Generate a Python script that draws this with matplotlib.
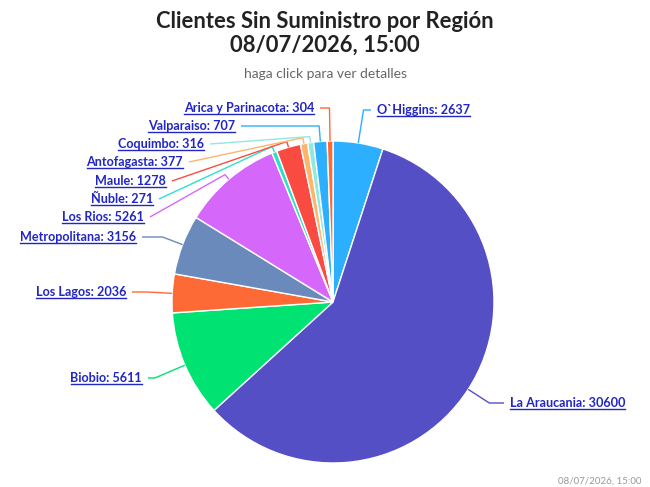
import numpy as np
import matplotlib
matplotlib.use("Agg")
import matplotlib.pyplot as plt
from matplotlib.lines import Line2D
from matplotlib.transforms import IdentityTransform

# Datos (en orden horario desde arriba)
regiones = ["O`Higgins", "La Araucania", "Biobio", "Los Lagos", "Metropolitana",
            "Los Rios", "Ñuble", "Maule", "Antofagasta", "Coquimbo",
            "Valparaiso", "Arica y Parinacota"]
clientes = [2637, 30600, 5611, 2036, 3156, 5261, 271, 1278, 377, 316, 707, 304]
colores = ["#2caffe", "#544fc5", "#00e272", "#fe6a35", "#6b8abc", "#d568fb",
           "#2ee0ca", "#fa4b42", "#feb56a", "#91e8e1", "#2caffe", "#fe6a35"]

# Posiciones de las etiquetas (pixeles: borde x, centro y)
etiqueta_x = [377, 510, 142, 126, 136, 144, 153, 166, 183, 204, 235, 314]
etiqueta_y = [110, 403, 378, 292, 237, 217, 199, 181, 162, 144, 126, 108]

W, H = 650, 487
cx, cy, r = 333, 302, 161  # centro y radio en pixeles
azul = "#2226c4"

fig = plt.figure(figsize=(W / 100, H / 100), dpi=100)
ax = fig.add_axes([0, 0, 1, 1])

wedges, _ = ax.pie(clientes, colors=colores, startangle=90, counterclock=False,
                   center=(cx, H - cy), radius=r,
                   wedgeprops=dict(edgecolor="white", linewidth=1))
ax.set_xlim(0, W)
ax.set_ylim(0, H)
ax.set_aspect("auto")
ax.axis("off")

# Titulos
fig.text(0.5, 1 - 21 / H, "Clientes Sin Suministro por Región", ha="center", va="center",
         fontsize=15.8, fontweight="bold", family="Lato", color="#222222")
fig.text(0.5, 1 - 45 / H, "08/07/2026, 15:00", ha="center", va="center",
         fontsize=15.8, fontweight="bold", family="Lato", color="#222222")
fig.text(0.5, 1 - 74 / H, "haga click para ver detalles", ha="center", va="center",
         fontsize=10, family="Lato", color="#666666")
fig.text(641 / W, 1 - 481 / H, "08/07/2026, 15:00", ha="right", va="center",
         fontsize=7, family="Lato", color="#999999")

textos = []
for w, nombre, valor, lx, ly, col in zip(wedges, regiones, clientes,
                                         etiqueta_x, etiqueta_y, colores):
    phi = np.deg2rad((w.theta1 + w.theta2) / 2)
    derecha = np.cos(phi) > 0
    t = ax.text(lx, H - ly - 4, f"{nombre}: {valor}", ha="left" if derecha else "right",
                va="baseline", fontsize=9.1, fontweight="bold", family="Lato",
                color=azul)
    textos.append(t)

    # conector al estilo "crookedLine"
    x0 = lx - 6 if derecha else lx + 6
    toca = (cx + r * np.cos(phi), cy - r * np.sin(phi))
    quiebre = (cx + (r + 6) * np.cos(phi), cy - (r + 6) * np.sin(phi))
    pts = [(x0, ly)]
    if abs(np.sin(phi)) > 1e-6:
        crook = cx + (cy - ly) * np.cos(phi) / np.sin(phi)
        if min(x0, quiebre[0]) <= crook <= max(x0, quiebre[0]):
            pts.append((crook, ly))
    pts += [quiebre, toca]
    xs = [p[0] for p in pts]
    ys = [H - p[1] for p in pts]
    ax.plot(xs, ys, color=col, lw=1, solid_capstyle="butt")

# Subrayado de las etiquetas
fig.canvas.draw()
renderer = fig.canvas.get_renderer()
for t in textos:
    bb = t.get_window_extent(renderer)
    base = ax.transData.transform(t.get_position())[1]
    fig.add_artist(Line2D([bb.x0, bb.x1], [base - 2, base - 2], color=azul,
                          lw=1, transform=IdentityTransform()))

fig.savefig("out.png", dpi=100)
